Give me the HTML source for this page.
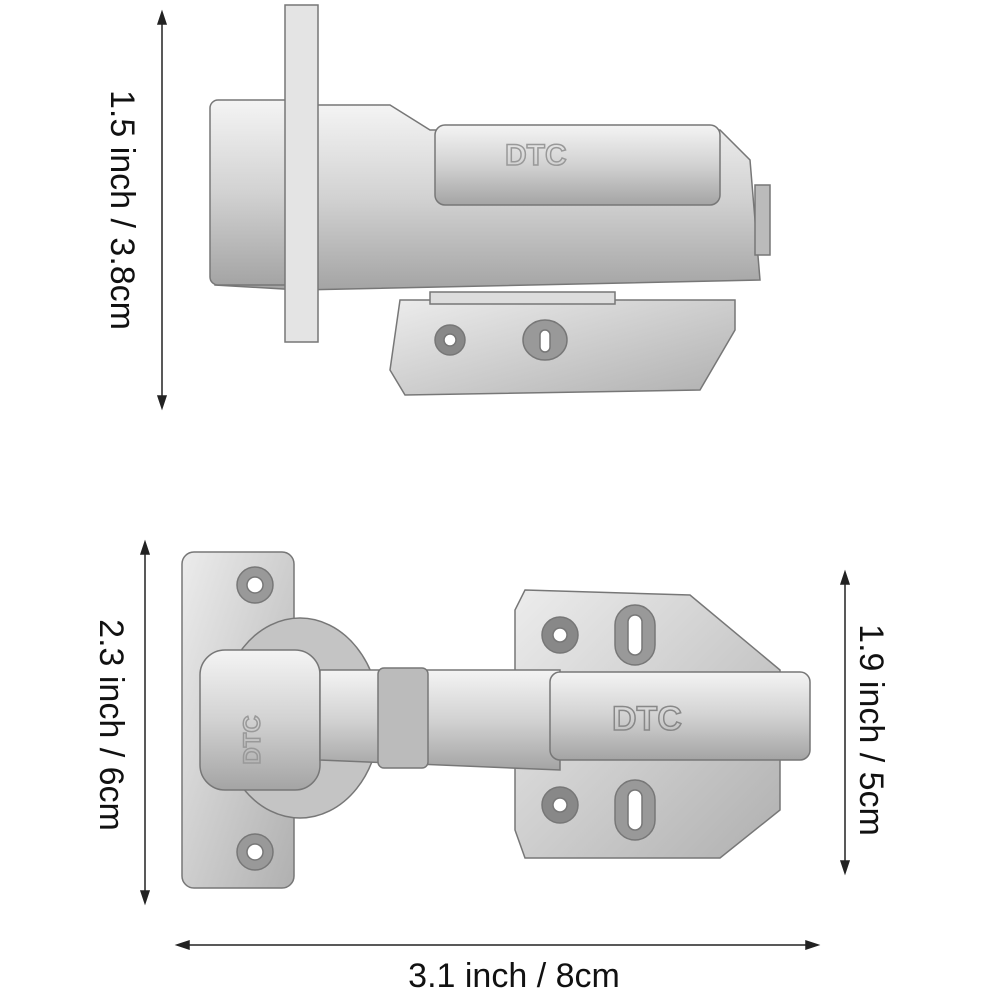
<!DOCTYPE html>
<html><head><meta charset="utf-8"><style>
html,body{margin:0;padding:0;background:#fff;}
svg{display:block}
text{font-family:"Liberation Sans",sans-serif;font-size:34px;fill:#111;}
</style></head><body>
<svg width="1000" height="1000" viewBox="0 0 1000 1000">
<defs>
<linearGradient id="m" x1="0" y1="0" x2="0" y2="1">
<stop offset="0" stop-color="#f4f4f4"/><stop offset="0.5" stop-color="#d2d2d2"/><stop offset="1" stop-color="#a4a4a4"/></linearGradient>
<linearGradient id="m2" x1="0" y1="0" x2="1" y2="1">
<stop offset="0" stop-color="#ececec"/><stop offset="1" stop-color="#b0b0b0"/></linearGradient>
</defs>
<g stroke="#222" stroke-width="1.5" fill="#222">
<line x1="162" y1="15" x2="162" y2="405"/>
<path d="M162 12 l-4 12 h8z M162 408 l-4 -12 h8z"/>
<line x1="145" y1="545" x2="145" y2="900"/>
<path d="M145 542 l-4 12 h8z M145 903 l-4 -12 h8z"/>
<line x1="845" y1="575" x2="845" y2="870"/>
<path d="M845 572 l-4 12 h8z M845 873 l-4 -12 h8z"/>
<line x1="180" y1="945" x2="815" y2="945"/>
<path d="M177 945 l12 -4 v8z M818 945 l-12 -4 v8z"/>
</g>
<text transform="translate(111,210) rotate(90)" text-anchor="middle">1.5 inch / 3.8cm</text>
<text transform="translate(100,725) rotate(90)" text-anchor="middle">2.3 inch / 6cm</text>
<text transform="translate(860,730) rotate(90)" text-anchor="middle">1.9 inch / 5cm</text>
<text x="514" y="987" text-anchor="middle">3.1 inch / 8cm</text>

<g stroke="#777" stroke-width="1.5">
<path d="M400 300 L735 300 L735 330 L700 390 L405 395 L390 370 Z" fill="url(#m2)"/>
<circle cx="450" cy="340" r="15" fill="#888"/><circle cx="450" cy="340" r="6" fill="#fff"/>
<ellipse cx="545" cy="340" rx="22" ry="20" fill="#999"/><rect x="540" y="330" width="10" height="22" rx="5" fill="#fff"/>
<path d="M215 105 L390 105 L430 130 L720 130 L750 160 L760 280 L300 290 L215 285 Z" fill="url(#m)"/>
<rect x="210" y="100" width="85" height="185" rx="8" fill="url(#m)"/>
<rect x="435" y="125" width="285" height="80" rx="10" fill="url(#m)"/>
<text x="505" y="165" style="font-size:30px;fill:none;stroke:#999;stroke-width:1.5;font-weight:bold">DTC</text>
<rect x="285" y="5" width="33" height="337" fill="#e4e4e4"/>
<rect x="755" y="185" width="15" height="70" fill="#bbb"/>
<rect x="430" y="292" width="185" height="12" fill="#ddd"/>
</g>

<g stroke="#777" stroke-width="1.5">
<path d="M525 590 L690 595 L780 670 L780 810 L720 858 L525 858 L515 830 L515 610 Z" fill="url(#m2)"/>
<circle cx="560" cy="635" r="18" fill="#888"/><circle cx="560" cy="635" r="7" fill="#fff"/>
<circle cx="560" cy="805" r="18" fill="#888"/><circle cx="560" cy="805" r="7" fill="#fff"/>
<rect x="615" y="605" width="40" height="60" rx="20" fill="#999"/><rect x="628" y="615" width="14" height="40" rx="7" fill="#fff"/>
<rect x="615" y="780" width="40" height="60" rx="20" fill="#999"/><rect x="628" y="790" width="14" height="40" rx="7" fill="#fff"/>
<rect x="182" y="552" width="112" height="336" rx="12" fill="url(#m2)"/>
<circle cx="255" cy="585" r="18" fill="#999"/><circle cx="255" cy="585" r="8" fill="#fff"/>
<circle cx="255" cy="852" r="18" fill="#999"/><circle cx="255" cy="852" r="8" fill="#fff"/>
<ellipse cx="300" cy="718" rx="80" ry="100" fill="#c4c4c4"/>
<rect x="200" y="650" width="120" height="140" rx="25" fill="url(#m)"/>
<text transform="translate(260,740) rotate(-90)" style="font-size:24px;fill:none;stroke:#999;font-weight:bold" text-anchor="middle">DTC</text>
<path d="M320 670 L560 670 L560 770 L320 760 Z" fill="url(#m)"/>
<rect x="378" y="668" width="50" height="100" rx="6" fill="#bbb"/>
<rect x="550" y="672" width="260" height="88" rx="10" fill="url(#m)"/>
<text x="612" y="730" style="font-size:34px;fill:none;stroke:#888;stroke-width:1.5;font-weight:bold">DTC</text>
</g>
</svg>
</body></html>
